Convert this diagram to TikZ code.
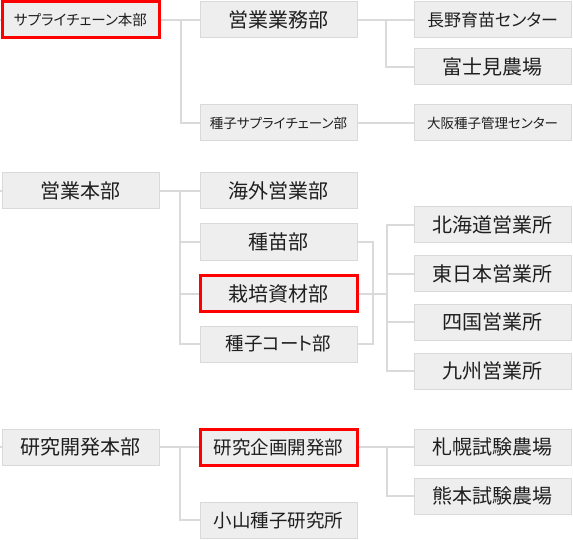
\documentclass[tikz,border=0pt]{standalone}
\usepackage{fontspec}
\usepackage{xcolor}
\usepackage{tikz}
\newfontfamily\jp{Noto Sans CJK JP}
\newfontfamily\jpp{Noto Sans CJK JP}[RawFeature=+palt]
\definecolor{boxfill}{HTML}{EEEEEE}
\definecolor{boxline}{HTML}{D9D9D9}
\definecolor{linkgray}{HTML}{DADADA}
\definecolor{ink}{HTML}{1F1F1F}
\newcommand{\fs}[1]{\fontsize{#1}{#1}\selectfont}

\begin{document}
\begin{tikzpicture}[x=1pt,y=-1pt]
			\tikzset{box/.style = {shape=rectangle,draw=boxline,fill=boxfill,line width=1pt,
					minimum width=157pt,minimum height=36pt,inner sep=0pt,text=ink,font=\jp\fs{20}}}
			
			\tikzset{hilite/.style = {draw=red,line width=3pt}}
			
			\tikzset{link/.style = {draw=linkgray,line width=2pt}}
			
			\useasboundingbox (0,0) rectangle (573,540);
			
			% boxes
			
			\node[box,hilite,font=\jpp\fs{14.5}] (sc) at (80.5,20) {サプライチェーン本部};
			
			\node[box] (gyomu) at (278.5,20) {営業業務部};
			
			\node[box,font=\jpp\fs{17}] (ikubyo) at (492.5,20) {長野育苗センター};
			
			\node[box] (fujimi) at (492.5,67) {富士見農場};
			
			\node[box,font=\jpp\fs{13.5}] (shushi) at (278.5,123) {種子サプライチェーン部};
			
			\node[box,font=\jpp\fs{13.5}] (osaka) at (492.5,123) {大阪種子管理センター};
			
			\node[box] (eigyo) at (80.5,191) {営業本部};
			
			\node[box] (kaigai) at (278.5,191) {海外営業部};
			
			\node[box] (shubyo) at (278.5,242) {種苗部};
			
			\node[box,hilite] (saibai) at (278.5,293.5) {栽培資材部};
			
			\node[box,font=\jpp\fs{18.5}] (coat) at (278.5,344) {種子コート部};
			
			\node[box] (hokkaido) at (492.5,225) {北海道営業所};
			
			\node[box] (higashi) at (492.5,273.5) {東日本営業所};
			
			\node[box] (shikoku) at (492.5,322) {四国営業所};
			
			\node[box] (kyushu) at (492.5,371) {九州営業所};
			
			\node[box] (kenkyu) at (80.5,447) {研究開発本部};
			
			\node[box,hilite,font=\jp\fs{18.5}] (kikaku) at (278.5,447) {研究企画開発部};
			
			\node[box,font=\jp\fs{18.5}] (koyama) at (278.5,520) {小山種子研究所};
			
			\node[box] (sapporo) at (492.5,447) {札幌試験農場};
			
			\node[box] (kumamoto) at (492.5,496) {熊本試験農場};
			
			% stubs at the left edge
			\coordinate (in1) at (0,20);
			\coordinate (in2) at (0,191);
			\coordinate (in3) at (0,447);
			
			%links
			
			\begin{scope}
			\draw[link] (in1) -- (sc.west);
			\draw[link] (in2) -- (eigyo.west);
			\draw[link] (in3) -- (kenkyu.west);
			
			\draw[link] (sc.east) -- (gyomu.west);
			\draw[link] (sc.east) -- ++(20.5,0) |- (shushi.west);
			\draw[link] (gyomu.east) -- (ikubyo.west);
			\draw[link] (gyomu.east) -- ++(28.5,0) |- (fujimi.west);
			\draw[link] (shushi.east) -- (osaka.west);
			
			\foreach \n in {kaigai,shubyo,saibai,coat}
			\draw[link] (eigyo.east) -- ++(20.5,0) |- (\n.west);
			\draw[link] (shubyo.east) -- ++(15,0) |- (coat.east);
			\foreach \n in {hokkaido,higashi,shikoku,kyushu}
			\draw[link] (saibai.east) -- ++(28.5,0) |- (\n.west);
			
			\foreach \n in {kikaku,koyama}
			\draw[link] (kenkyu.east) -- ++(20.5,0) |- (\n.west);
			\foreach \n in {sapporo,kumamoto}
			\draw[link] (kikaku.east) -- ++(28.5,0) |- (\n.west);
			\end{scope}
\end{tikzpicture}
\end{document}
